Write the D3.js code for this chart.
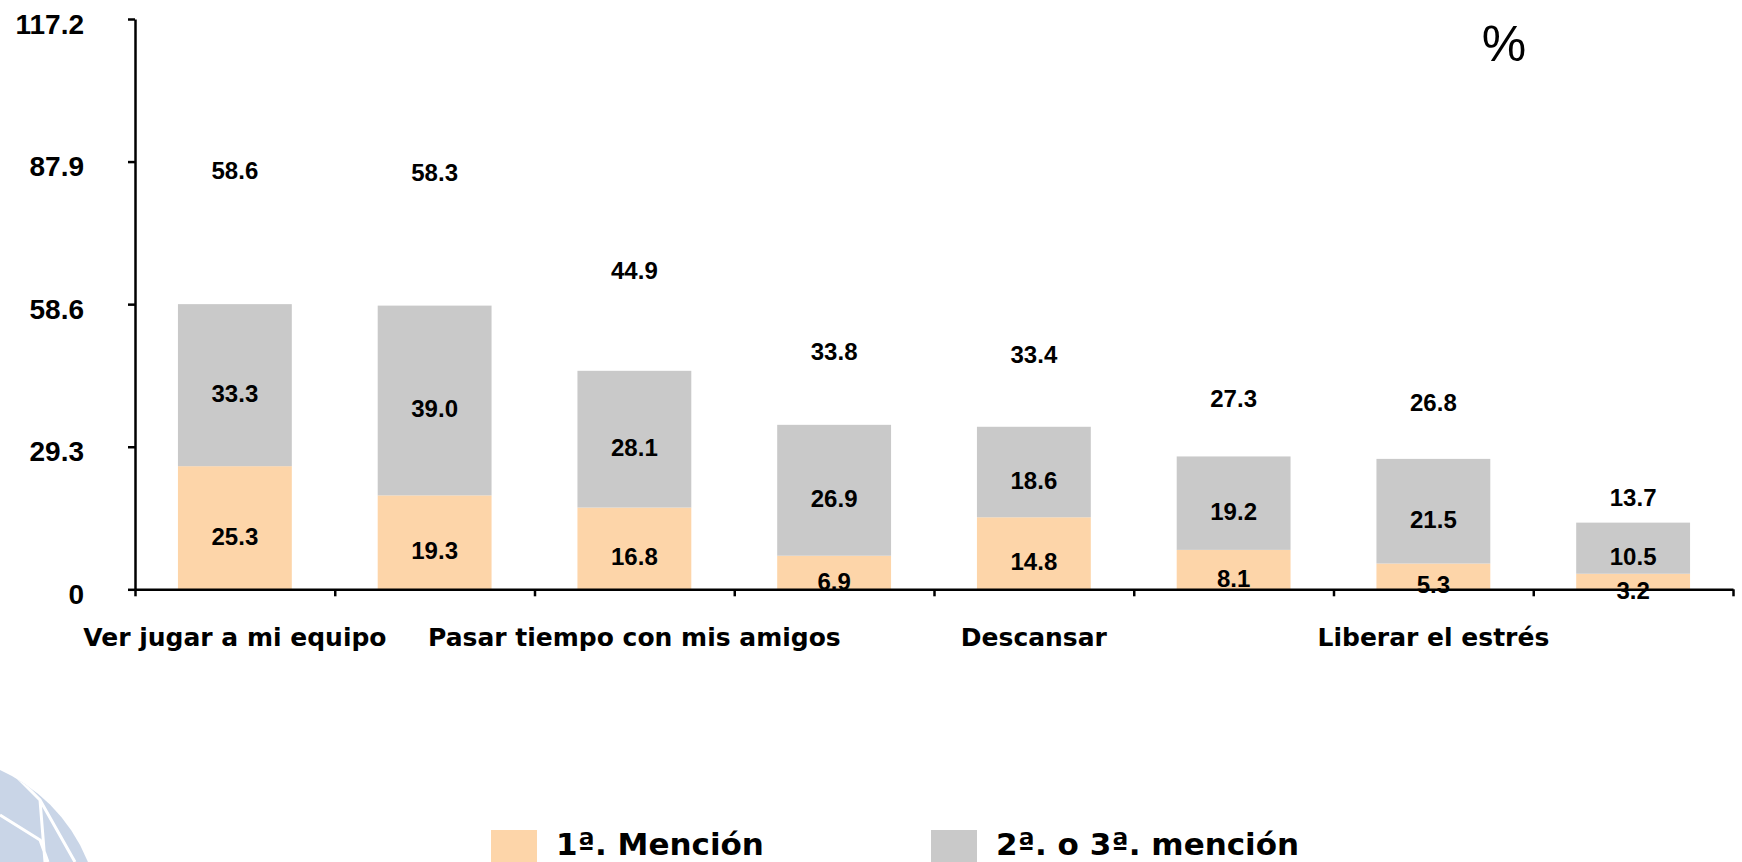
<!DOCTYPE html>
<html>
<head>
<meta charset="utf-8">
<script src="https://cdn.jsdelivr.net/npm/d3@7"></script>
<style>
  body { margin: 0; background: #fff; }
  svg { display: block; }
  .axis path, .axis line { stroke: #000; stroke-width: 2.5; }
</style>
</head>
<body>
<svg></svg>
<script>
// values
const categories = ["Ver jugar a mi equipo", "", "Pasar tiempo con mis amigos", "", "Descansar", "", "Liberar el estrés", ""];
const primera = [25.3, 19.3, 16.8, 6.9, 14.8, 8.1, 5.3, 3.2];
const segunda = [33.3, 39.0, 28.1, 26.9, 18.6, 19.2, 21.5, 10.5];
const totales = [58.6, 58.3, 44.9, 33.8, 33.4, 27.3, 26.8, 13.7];
const yTicks = [0, 29.3, 58.6, 87.9, 117.2];
const seriesNames = ["1ª. Mención", "2ª. o 3ª. mención"];
const colors = ["#fdd5a9", "#c9c9c9"];

const width = 1742;
const height = 862;
const svg = d3.select("svg")
              .attr("width", width)
              .attr("height", height);

const plotLeft = 135, plotRight = 1733, plotTop = 19, plotBottom = 589.3;

const y = d3.scaleLinear().domain([0, 117.2]).range([plotBottom, plotTop]);
const x = d3.scaleBand()
            .domain(d3.range(categories.length))
            .range([plotLeft, plotRight])
            .paddingInner(0.43)
            .paddingOuter(0.215);
const xEdge = d3.scaleLinear().domain([0, categories.length]).range([plotLeft, plotRight]);

// rows for the stack: third layer is invisible and only carries the total label
const rows = categories.map((c, i) => ({ i: i, a: primera[i], b: segunda[i], t: totales[i] }));
const stacked = d3.stack().keys(["a", "b", "t"])(rows);

// logo in the corner
const logo = svg.append("g").attr("class", "logo");
logo.append("clipPath").attr("id", "logoClip")
    .append("circle").attr("cx", -70).attr("cy", 925).attr("r", 170);
const lg = logo.append("g").attr("clip-path", "url(#logoClip)");
lg.append("rect").attr("x", 0).attr("y", 760).attr("width", 120).attr("height", 110).attr("fill", "#c9d5e7");
lg.append("path").attr("d", "M0,815 L40,840 L48,862 M15,775 L40,800 L45,862 M40,800 L75,862")
    .attr("fill", "none").attr("stroke", "#fff").attr("stroke-width", 3);

// bars
svg.append("g").selectAll("g")
    .data(stacked.slice(0, 2))
    .enter()
    .append("g")
      .attr("fill", (d, k) => colors[k])
    .selectAll("rect")
    .data(d => d)
    .enter()
    .append("rect")
      .attr("x", d => x(d.data.i))
      .attr("y", d => y(d[1]))
      .attr("width", x.bandwidth())
      .attr("height", d => y(d[0]) - y(d[1]));

// y axis
svg.append("g")
    .attr("class", "axis")
    .attr("transform", "translate(" + plotLeft + ",0)")
    .call(d3.axisLeft(y).tickValues(yTicks).tickSize(7).tickSizeOuter(0).tickPadding(44)
            .tickFormat(d => d === 0 ? "0" : d3.format(".1f")(d)))
    .call(g => g.selectAll("text")
        .attr("dy", "0.5em")
        .style("font-family", "'Liberation Sans', Arial, sans-serif")
        .style("font-weight", "bold")
        .style("font-size", "28px")
        .attr("fill", "#000"));

// x axis with ticks between categories
svg.append("g")
    .attr("class", "axis")
    .attr("transform", "translate(0," + plotBottom + ")")
    .call(d3.axisBottom(xEdge).ticks(categories.length).tickSize(7).tickSizeOuter(0).tickFormat(""));

// category labels
svg.append("g")
    .attr("transform", "translate(0," + plotBottom + ")")
    .call(d3.axisBottom(x).tickSize(0).tickPadding(0).tickFormat(i => categories[i]))
    .call(g => g.select(".domain").remove())
    .call(g => g.selectAll("text")
        .attr("y", 57)
        .attr("dy", 0)
        .style("font-family", "'DejaVu Sans', sans-serif")
        .style("font-weight", "bold")
        .style("font-size", "25px")
        .attr("fill", "#000"));

// value labels (segments and totals)
svg.append("g").selectAll("g")
    .data(stacked)
    .enter()
    .append("g")
    .selectAll("text")
    .data(d => d)
    .enter()
    .append("text")
      .attr("x", d => x(d.data.i) + x.bandwidth() / 2)
      .attr("y", d => y((d[0] + d[1]) / 2) + 17)
      .attr("text-anchor", "middle")
      .style("font-family", "'Liberation Sans', Arial, sans-serif")
      .style("font-weight", "bold")
      .style("font-size", "24px")
      .text(d => d3.format(".1f")(d[1] - d[0]));

// percent sign
svg.append("text")
    .attr("x", 1504)
    .attr("y", 61)
    .attr("text-anchor", "middle")
    .style("font-family", "'Liberation Sans', Arial, sans-serif")
    .style("font-size", "50px")
    .text("%");

// legend
const legendX = [491, 931];
const legend = svg.append("g").selectAll("g")
    .data(seriesNames)
    .enter()
    .append("g")
      .attr("transform", (d, k) => "translate(" + legendX[k] + ",830)");
legend.append("rect")
    .attr("width", 46)
    .attr("height", 40)
    .attr("fill", (d, k) => colors[k]);
legend.append("text")
    .attr("x", 65)
    .attr("y", 25)
    .style("font-family", "'DejaVu Sans', sans-serif")
    .style("font-weight", "bold")
    .style("font-size", "31px")
    .text(d => d);
</script>
</body>
</html>
